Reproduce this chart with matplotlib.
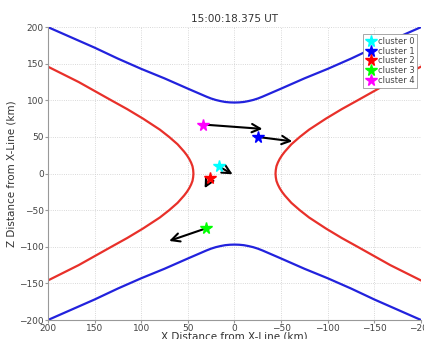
import numpy as np
import matplotlib
matplotlib.use('Agg')
import matplotlib.pyplot as plt

# Separatrix curves, one quadrant each (X km, Z km), mirrored for the rest
blue_x = [0, 5, 10, 15, 20, 25, 30, 40, 50, 75, 100, 125, 150, 175, 200]
blue_z = [97, 97.2, 97.8, 99, 100.5, 102.5, 105, 110.5, 116, 130, 143, 157, 172, 186, 200]
red_x = [44, 44.3, 45, 46.5, 48.5, 51, 54, 57.5, 61, 65.5, 70, 80, 98, 115, 132, 167, 200]
red_z = [0, 5, 10, 15, 20, 25, 30, 35, 40, 45, 50, 60, 75, 88, 100, 125, 146]

# Cluster positions and the tips of their velocity arrows
names = ['cluster 0', 'cluster 1', 'cluster 2', 'cluster 3', 'cluster 4']
colors = ['cyan', 'blue', 'red', 'lime', 'magenta']
pos_x = [17, -25, 26, 31, 34]
pos_z = [10, 50, -6, -75, 67]
tip_x = [2, -62, 32, 70, -30]
tip_z = [-1, 44, -20, -92, 61]

fig = plt.figure(figsize=(4.24, 3.39), dpi=100)
ax = fig.add_axes([0.113, 0.056, 0.88, 0.864])

bx = np.array(blue_x)
bz = np.array(blue_z)
rx = np.array(red_x)
rz = np.array(red_z)

# blue: top and bottom branches, red: left and right branches
for s in (1, -1):
    ax.plot(np.r_[bx[::-1], -bx[1:]], s * np.r_[bz[::-1], bz[1:]], color='#2222dd', lw=1.6, zorder=2)
    ax.plot(s * np.r_[rx[::-1], rx[1:]], np.r_[rz[::-1], -rz[1:]], color='#e8302a', lw=1.6, zorder=2)

for i in range(len(names)):
    ax.annotate('', xy=(tip_x[i], tip_z[i]), xytext=(pos_x[i], pos_z[i]),
                arrowprops=dict(arrowstyle='->', color='black', lw=1.5,
                                mutation_scale=15, shrinkA=0, shrinkB=0), zorder=3)
    ax.plot(pos_x[i], pos_z[i], marker='*', color=colors[i], ms=8.5,
            linestyle='none', label=names[i], zorder=4)

ax.set_xlim(200, -200)
ax.set_ylim(-200, 200)
ax.set_xticks(np.arange(200, -201, -50))
ax.set_yticks(np.arange(-200, 201, 50))
ax.grid(True, linestyle=':', color='#cccccc', lw=0.6)
for sp in ('top', 'right'):
    ax.spines[sp].set_visible(False)
for sp in ('left', 'bottom'):
    ax.spines[sp].set_color('#999999')
ax.tick_params(labelsize=6.5, colors='#999999', labelcolor='#444444', length=2, pad=1)

ax.set_title('15:00:18.375 UT', fontsize=7.5, color='#333333', pad=4)
ax.set_xlabel('X Distance from X-Line (km)', fontsize=7.5, color='#333333', labelpad=-1)
ax.set_ylabel('Z Distance from X-Line (km)', fontsize=7.5, color='#333333', labelpad=2)

leg = ax.legend(loc='upper right', fontsize=6, handletextpad=0.2, borderpad=0.3,
                labelspacing=0.1, handlelength=1.2, fancybox=False, framealpha=1,
                bbox_to_anchor=(1.0, 0.99))
leg.get_frame().set_edgecolor('#999999')
leg.get_frame().set_linewidth(0.6)
for t in leg.get_texts():
    t.set_color('#444444')

fig.savefig('out.png', dpi=100)
